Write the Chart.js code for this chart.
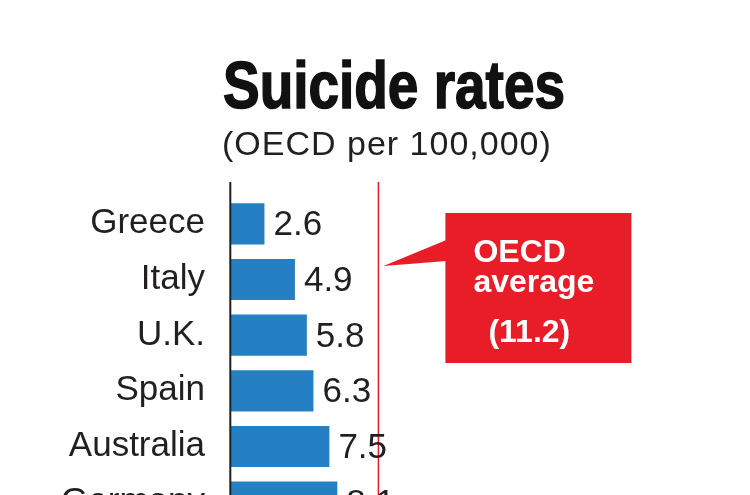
<!DOCTYPE html>
<html>
<head>
<meta charset="utf-8">
<script src="https://cdn.jsdelivr.net/npm/chart.js@4"></script>
<style>
  html, body { margin: 0; padding: 0; background: #fff; }
  #wrap { width: 750px; height: 495px; overflow: hidden; position: relative; }
</style>
</head>
<body>
<div id="wrap">
  <canvas id="chart" width="750" height="540"></canvas>
</div>
<script>
const countries = ["Greece", "Italy", "U.K.", "Spain", "Australia", "Germany"];
const rates = [2.6, 4.9, 5.8, 6.3, 7.5, 8.1];
const oecdAverage = 11.2;
const titleText = "Suicide rates";
const subtitleText = "(OECD per 100,000)";
const calloutLines = ["OECD", "average", "(11.2)"];

const BLUE = "#2580c3";
const RED = "#e91d27";
const INK = "#231f20";

// title, axis lines, average line, callout and value labels
const decorations = {
  id: "decorations",
  afterDatasetsDraw(chart) {
    const { ctx, chartArea, scales } = chart;
    const top = chartArea.top - 14;
    const bottom = chart.height;

    // black baseline
    ctx.save();
    ctx.strokeStyle = INK;
    ctx.lineWidth = 2;
    ctx.beginPath();
    ctx.moveTo(chartArea.left + 0.3, top);
    ctx.lineTo(chartArea.left + 0.3, bottom);
    ctx.stroke();

    // OECD average line
    const ax = scales.x.getPixelForValue(oecdAverage);
    ctx.strokeStyle = RED;
    ctx.lineWidth = 1.5;
    ctx.beginPath();
    ctx.moveTo(ax, top);
    ctx.lineTo(ax, bottom);
    ctx.stroke();

    // callout box with pointer
    const bx = ax + 67, by = 213, bw = 186, bh = 150;
    ctx.fillStyle = RED;
    ctx.fillRect(bx, by, bw, bh);
    ctx.beginPath();
    ctx.moveTo(bx + 1, 240);
    ctx.lineTo(ax + 5, 266);
    ctx.lineTo(bx + 1, 261);
    ctx.closePath();
    ctx.fill();

    ctx.fillStyle = "#fff";
    ctx.font = 'bold 32px "Liberation Sans"';
    ctx.textBaseline = "alphabetic";
    ctx.textAlign = "left";
    ctx.fillText(calloutLines[0], bx + 28, 262);
    ctx.fillText(calloutLines[1], bx + 28, 292);
    ctx.fillText(calloutLines[2], bx + 43, 342);

    // value labels
    ctx.fillStyle = INK;
    ctx.font = '35px "Liberation Sans"';
    ctx.textBaseline = "middle";
    chart.getDatasetMeta(0).data.forEach((bar, i) => {
      ctx.fillText(rates[i].toFixed(1), bar.x + 9, bar.y + 2);
    });

    // title (condensed heavy look) + subtitle
    ctx.textBaseline = "alphabetic";
    ctx.fillStyle = "#111";
    ctx.strokeStyle = "#111";
    ctx.lineWidth = 1.6;
    ctx.font = 'bold 67px "Liberation Sans"';
    ctx.save();
    ctx.translate(223, 108);
    ctx.scale(0.82, 1);
    ctx.fillText(titleText, 0, 0);
    ctx.strokeText(titleText, 0, 0);
    ctx.restore();

    ctx.fillStyle = INK;
    ctx.font = '34px "Liberation Sans"';
    ctx.letterSpacing = "1px";
    ctx.fillText(subtitleText, 222, 155);
    ctx.restore();
  }
};

new Chart(document.getElementById("chart"), {
  type: "bar",
  data: {
    labels: countries,
    datasets: [{
      data: rates,
      backgroundColor: BLUE,
      borderWidth: 0,
      categoryPercentage: 1,
      barPercentage: 0.74
    }]
  },
  options: {
    indexAxis: "y",
    responsive: false,
    animation: false,
    devicePixelRatio: 1,
    layout: { padding: { top: 196, bottom: 10, left: 0, right: 255 } },
    plugins: {
      legend: { display: false },
      tooltip: { enabled: false }
    },
    scales: {
      x: { display: false, min: 0, max: 20 },
      y: {
        grid: { display: false, drawTicks: false },
        border: { display: false },
        afterFit: s => { s.width = 230; s.paddingTop = 0; s.paddingBottom = 0; },
        ticks: {
          padding: 25,
          color: INK,
          font: { family: "Liberation Sans", size: 35 }
        }
      }
    }
  },
  plugins: [decorations]
});
</script>
</body>
</html>
